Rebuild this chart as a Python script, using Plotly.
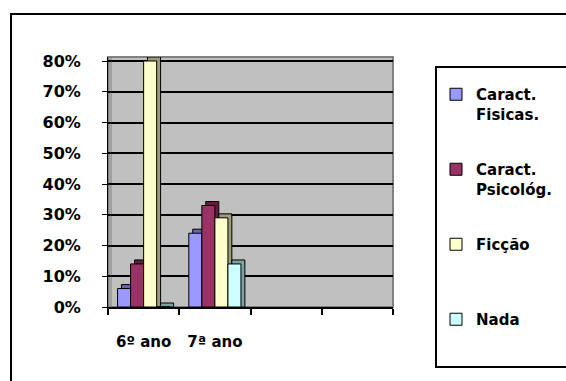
import plotly.graph_objects as go

# Survey answers by school year (share of students, %)
categories = ["6º ano", "7ª ano", "\u200b", "\u200b\u200b"]
series_names = ["Caract.<br>Fisicas.", "Caract.<br>Psicológ.", "Ficção<br>\u00a0", "Nada"]
fisicas = [6, 24]
psicolog = [14, 33]
ficcao = [80, 29]
nada = [0, 14]
y_ticks = [0, 10, 20, 30, 40, 50, 60, 70, 80]
y_tick_text = ["0%", "10%", "20%", "30%", "40%", "50%", "60%", "70%", "80%"]

front_colors = ["#9999FF", "#993366", "#FFFFCC", "#CCFFFF"]
side_colors = ["#6666B0", "#5C1F3D", "#9C9C78", "#7AA3A3"]

bar_w = 0.183
depth_x = 0.055
depth_y = 1.3

fig = go.Figure()
values = [fisicas, psicolog, ficcao, nada]
for i, (name, vals) in enumerate(zip(series_names, values)):
    off = -2 * bar_w + i * bar_w
    # darker block behind each bar gives the extruded look
    fig.add_trace(go.Bar(
        x=categories[:2], y=[v + depth_y for v in vals], base=0,
        offset=off + depth_x, width=bar_w,
        marker=dict(color=side_colors[i], line=dict(color="black", width=1)),
        showlegend=False, hoverinfo="skip",
    ))
    fig.add_trace(go.Bar(
        x=categories[:2], y=vals, name=name, legendgroup=name,
        offset=off, width=bar_w,
        marker=dict(color=front_colors[i], line=dict(color="black", width=1)),
    ))

W, H = 566, 381
L, R, T, B = 108, 173, 20, 74
pw, ph = W - L - R, H - T - B
axis_top = 57                     # top of the value axis inside the plot box
y_dom_top = (H - B - axis_top) / ph

def px(x):
    return (x - L) / pw

def py(y):
    return (H - B - y) / ph

fig.update_layout(
    width=W, height=H,
    margin=dict(l=L, r=R, t=T, b=B, pad=0, autoexpand=False),
    barmode="overlay",
    paper_bgcolor="white",
    plot_bgcolor="white",
    font=dict(family="DejaVu Sans", size=15, color="black", weight="bold"),
    xaxis=dict(
        type="category", categoryorder="array", categoryarray=categories,
        range=[-0.5, 3.5], showgrid=False,
        showline=True, linecolor="black", linewidth=2,
        ticks="outside", tickson="boundaries", ticklen=6, tickcolor="black", tickwidth=2,
        ticklabelstandoff=20,
        tickfont=dict(family="DejaVu Sans", size=15, color="black", weight="bold"),
    ),
    yaxis=dict(
        domain=[0, y_dom_top],
        range=[0, 81.3], tickvals=y_ticks, ticktext=y_tick_text,
        showgrid=True, gridcolor="black", gridwidth=2, zeroline=False,
        showline=True, linecolor="black", linewidth=1,
        ticks="outside", ticklen=5, tickcolor="black", tickwidth=1,
        ticklabelstandoff=18,
        tickfont=dict(family="DejaVu Sans", size=16, color="black", weight="bold"),
    ),
    legend=dict(
        x=px(436), y=py(78), xanchor="left", yanchor="top",
        bgcolor="rgba(0,0,0,0)", borderwidth=0,
        tracegroupgap=33, itemwidth=30, valign="top",
        font=dict(family="DejaVu Sans", size=15, color="black", weight="bold"),
    ),
    shapes=[
        # grey back wall
        dict(type="rect", xref="x domain", yref="y domain", x0=0, x1=1, y0=0, y1=1,
             fillcolor="#C0C0C0", line=dict(width=0), layer="below"),
        # left side wall of the 3D plot area
        dict(type="rect", xref="x domain", yref="y domain", x0=0, x1=4 / pw, y0=0, y1=1,
             fillcolor="#A0A0A0", line=dict(width=0), layer="below"),
        # back wall outline
        dict(type="rect", xref="x domain", yref="y domain", x0=0, x1=1, y0=0, y1=1,
             line=dict(color="#808080", width=2), layer="below"),
        # legend frame
        dict(type="rect", xref="paper", yref="paper", x0=px(436), x1=px(600),
             y0=py(367), y1=py(67), line=dict(color="black", width=2)),
        # chart frame
        dict(type="rect", xref="paper", yref="paper", x0=px(11), x1=px(600),
             y0=py(400), y1=py(14), line=dict(color="black", width=2)),
    ],
)

fig.write_html("out.html")
